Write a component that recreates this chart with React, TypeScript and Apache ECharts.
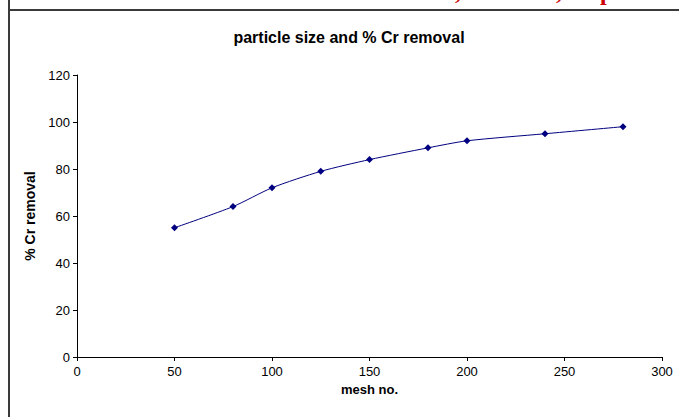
import React, { useEffect, useRef } from "react";
import * as echarts from "echarts";

// mesh number of the sieved particles
const meshNo: number[] = [50, 80, 100, 125, 150, 180, 200, 240, 280];
// percentage of chromium removed
const crRemoval: number[] = [55, 64, 72, 79, 84, 89, 92, 95, 98];

const xTicks: number[] = [0, 50, 100, 150, 200, 250, 300];
const yTicks: number[] = [0, 20, 40, 60, 80, 100, 120];

const titleText = "particle size and % Cr removal";
const xName = "mesh no.";
const yName = "% Cr removal";

export default function App() {
  const ref = useRef<HTMLDivElement>(null);

  useEffect(() => {
    if (!ref.current) return;
    const chart = echarts.init(ref.current, null, { renderer: "svg" });
    const font = "Arial, 'Liberation Sans', sans-serif";
    const serif = "bold 24px 'Liberation Serif', 'DejaVu Serif', serif";
    chart.setOption({
      animation: false,
      backgroundColor: "#ffffff",
      textStyle: { fontFamily: font },
      title: {
        text: titleText,
        left: 344,
        top: 24,
        textAlign: "center",
        textStyle: { fontSize: 16, fontWeight: "bold", color: "#000", fontFamily: font },
      },
      graphic: [
        // frame around the chart area
        { type: "line", shape: { x1: 9, y1: 0, x2: 9, y2: 417 }, style: { stroke: "#3a3a3a", lineWidth: 2 } },
        { type: "line", shape: { x1: 8, y1: 10, x2: 679, y2: 10 }, style: { stroke: "#3a3a3a", lineWidth: 2 } },
        // lower tips of the line of red text above the frame
        { type: "text", x: 455, y: 3, style: { text: ",", fill: "#cc0000", font: serif, verticalAlign: "bottom" } },
        { type: "text", x: 556, y: 3, style: { text: ",", fill: "#cc0000", font: serif, verticalAlign: "bottom" } },
        { type: "text", x: 600, y: 4, style: { text: "p", fill: "#cc0000", font: serif, verticalAlign: "bottom" } },
      ],
      grid: { left: 77, right: 17, top: 75, bottom: 60, containLabel: false },
      xAxis: {
        type: "value",
        min: xTicks[0],
        max: xTicks[xTicks.length - 1],
        interval: 50,
        name: xName,
        nameLocation: "middle",
        nameGap: 25,
        nameTextStyle: { fontSize: 13, fontWeight: "bold", color: "#000", fontFamily: font },
        axisLine: { onZero: false, lineStyle: { color: "#000", width: 1 } },
        axisTick: { show: true, length: 4, inside: false, lineStyle: { color: "#000" } },
        axisLabel: { fontSize: 13, color: "#000", margin: 8, fontFamily: font },
        splitLine: { show: false },
      },
      yAxis: {
        type: "value",
        min: yTicks[0],
        max: yTicks[yTicks.length - 1],
        interval: 20,
        name: yName,
        nameLocation: "middle",
        nameGap: 40,
        nameRotate: 90,
        nameTextStyle: { fontSize: 14, fontWeight: "bold", color: "#000", fontFamily: font },
        axisLine: { show: true, lineStyle: { color: "#000", width: 1 } },
        axisTick: { show: true, length: 4, lineStyle: { color: "#000" } },
        axisLabel: { fontSize: 13, color: "#000", margin: 7, fontFamily: font },
        splitLine: { show: false },
      },
      series: [
        {
          type: "line",
          data: meshNo.map((m, i) => [m, crRemoval[i]]),
          smooth: 0.25,
          symbol: "diamond",
          symbolSize: 7,
          lineStyle: { color: "#000080", width: 1 },
          itemStyle: { color: "#000080" },
        },
      ],
    });
    return () => chart.dispose();
  }, []);

  return <div ref={ref} style={{ width: 679, height: 417, position: "absolute", left: 0, top: 0 }} />;
}
